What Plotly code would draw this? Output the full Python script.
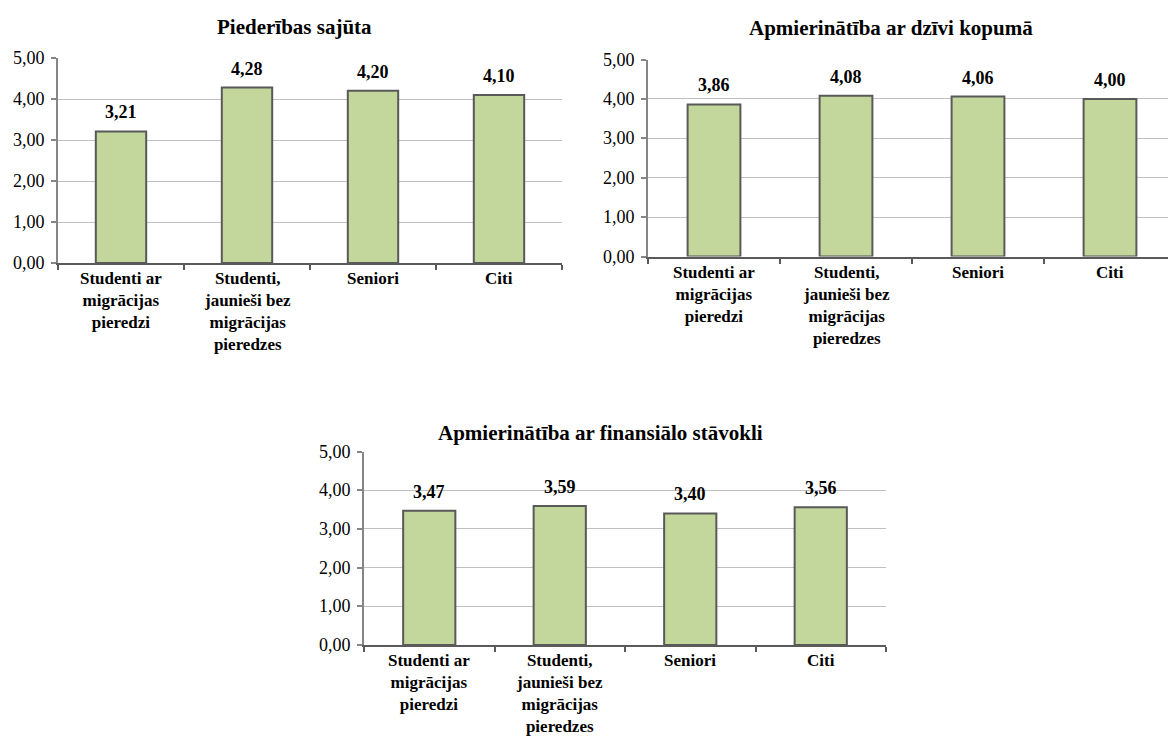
import plotly.graph_objects as go

# Survey groups and mean scores (1-5 scale) for three indicators
categories = [
    "Studenti ar<br>migrācijas<br>pieredzi",
    "Studenti,<br>jaunieši bez<br>migrācijas<br>pieredzes",
    "Seniori",
    "Citi",
]
titles = [
    "Piederības sajūta",
    "Apmierinātība ar dzīvi kopumā",
    "Apmierinātība ar finansiālo stāvokli",
]
belonging = [3.21, 4.28, 4.20, 4.10]
life_satisfaction = [3.86, 4.08, 4.06, 4.00]
financial_satisfaction = [3.47, 3.59, 3.40, 3.56]
y_ticks = [0, 1, 2, 3, 4, 5]

W, H = 1168, 740
FONT = "Liberation Serif, Times New Roman, serif"
BAR_FILL = "#c3d69b"
BAR_EDGE = "#595959"
GRID = "#c0c0c0"


def fmt(v):
    return f"{v:.2f}".replace(".", ",")


# Plot-area boxes in pixels: (left, right, top, bottom), plus x-range end
panels = [
    dict(box=(58, 562, 58, 263), xend=3.5, title_xy=(294, 27)),
    dict(box=(648, 1168, 59.5, 256.5), xend=-0.5 + (1168 - 648) / 132.0, title_xy=(891, 28)),
    dict(box=(364, 886, 451.5, 645), xend=3.5, title_xy=(600, 433)),
]
series = [belonging, life_satisfaction, financial_satisfaction]

fig = go.Figure()
annotations = []
for i, (p, vals, title) in enumerate(zip(panels, series, titles)):
    n = "" if i == 0 else str(i + 1)
    xr, yr = "x" + n, "y" + n
    l, r, t, b = p["box"]
    fig.add_trace(go.Bar(
        x=categories, y=vals,
        xaxis=xr, yaxis=yr,
        width=0.4,
        marker=dict(color=BAR_FILL, line=dict(color=BAR_EDGE, width=2)),
        showlegend=False,
        hoverinfo="skip",
    ))
    # value labels above each bar
    for c, v in zip(categories, vals):
        annotations.append(dict(
            x=c, y=v, xref=xr, yref=yr,
            text=fmt(v),
            xanchor="center", yanchor="bottom", yshift=7,
            showarrow=False,
            font=dict(family=FONT, size=18, color="black", weight="bold"),
        ))
    # category labels under the x axis
    for c in categories:
        annotations.append(dict(
            x=c, y=0, xref=xr, yref=yr,
            text=c,
            xanchor="center", yanchor="top", yshift=-4,
            showarrow=False, align="center",
            font=dict(family=FONT, size=17, color="black", weight="bold"),
        ))
    # value-axis labels left of the y axis
    for tv in y_ticks:
        annotations.append(dict(
            x=0, y=tv, xref=xr + " domain", yref=yr,
            text=fmt(tv),
            xanchor="right", yanchor="middle", xshift=-11,
            showarrow=False,
            font=dict(family=FONT, size=18, color="black", weight="normal"),
        ))
    fig.update_layout(**{
        "xaxis" + n: dict(
            domain=[l / W, r / W],
            anchor=yr,
            range=[-0.5, p["xend"]],
            showline=True, linecolor="#5a5a5a", linewidth=2,
            ticks="outside", tickson="boundaries", ticklen=5,
            tickcolor="#5a5a5a", tickwidth=2,
            showticklabels=False,
            showgrid=False, zeroline=False, fixedrange=True,
        ),
        "yaxis" + n: dict(
            domain=[1 - b / H, 1 - t / H],
            anchor=xr,
            range=[0, 5],
            tickvals=y_ticks,
            showline=True, linecolor="#868686", linewidth=2,
            ticks="outside", ticklen=5, tickcolor="#868686", tickwidth=2,
            showticklabels=False,
            showgrid=True, gridcolor=GRID, gridwidth=1,
            zeroline=False, fixedrange=True,
        ),
    })
    tx, ty = p["title_xy"]
    annotations.append(dict(
        text=title, x=tx / W, y=1 - ty / H, xref="paper", yref="paper",
        xanchor="center", yanchor="middle", showarrow=False,
        font=dict(family=FONT, size=21, color="black", weight="bold"),
    ))

fig.update_layout(
    width=W, height=H,
    margin=dict(l=0, r=0, t=0, b=0),
    font=dict(family=FONT, color="black"),
    paper_bgcolor="white", plot_bgcolor="white",
    annotations=annotations,
)

fig.write_html("out.html")
